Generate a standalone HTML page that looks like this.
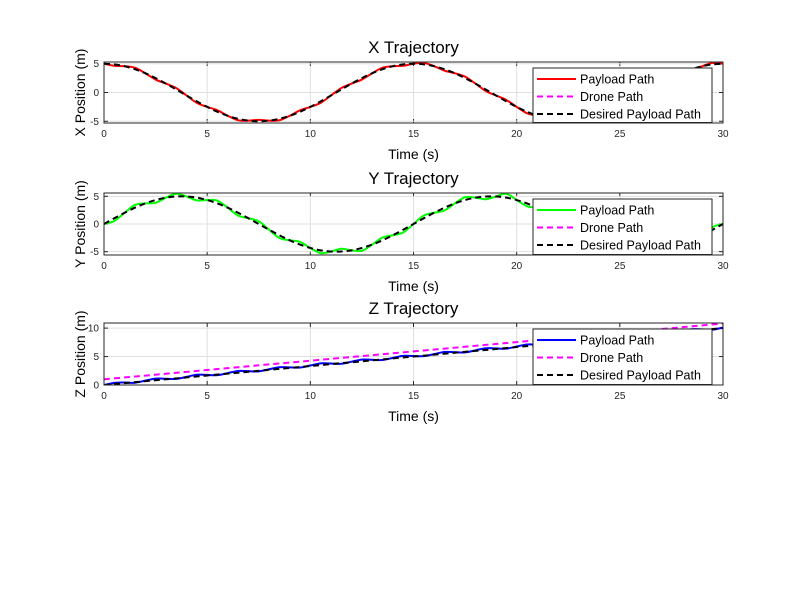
<!DOCTYPE html>
<html><head><meta charset="utf-8"><style>
body{margin:0;background:#fff}
svg{display:block;font-family:"Liberation Sans",Arial,sans-serif}
</style></head><body>
<svg id="chart" width="800" height="600" viewBox="0 0 800 600">
<rect width="800" height="600" fill="#fff"/>
</svg>
<script>
const timeHalf = [];for(let i=0;i<=60;i++)timeHalf.push(i*0.5);
const timeWhole = [];for(let i=0;i<=30;i++)timeWhole.push(i);
const xTicks = [0,5,10,15,20,25,30];
const xDesired = [5,4.89,4.57,4.05,3.35,2.5,1.55,0.52,-0.52,-1.55,-2.5,-3.35,-4.05,-4.57,-4.89,-5,-4.89,-4.57,-4.05,-3.35,-2.5,-1.55,-0.52,0.52,1.55,2.5,3.35,4.05,4.57,4.89,5,4.89,4.57,4.05,3.35,2.5,1.55,0.52,-0.52,-1.55,-2.5,-3.35,-4.05,-4.57,-4.89,-5,-4.89,-4.57,-4.05,-3.35,-2.5,-1.55,-0.52,0.52,1.55,2.5,3.35,4.05,4.57,4.89,5];
const xPayload = [5,4.64,4.57,4.30,3.35,2.25,1.55,0.77,-0.52,-1.80,-2.5,-3.10,-4.05,-4.82,-4.89,-4.75,-4.89,-4.82,-4.05,-3.10,-2.5,-1.80,-0.52,0.77,1.55,2.25,3.35,4.30,4.57,4.64,5,5.14,4.57,3.80,3.35,2.75,1.55,0.27,-0.52,-1.30,-2.5,-3.60,-4.05,-4.32,-4.89,-5.25,-4.89,-4.32,-4.05,-3.60,-2.5,-1.30,-0.52,0.27,1.55,2.75,3.35,3.80,4.57,5.14,5];
const yDesired = [0,1.04,2.03,2.94,3.72,4.33,4.76,4.97,4.97,4.76,4.33,3.72,2.94,2.03,1.04,0,-1.04,-2.03,-2.94,-3.72,-4.33,-4.76,-4.97,-4.97,-4.76,-4.33,-3.72,-2.94,-2.03,-1.04,0,1.04,2.03,2.94,3.72,4.33,4.76,4.97,4.97,4.76,4.33,3.72,2.94,2.03,1.04,0,-1.04,-2.03,-2.94,-3.72,-4.33,-4.76,-4.97,-4.97,-4.76,-4.33,-3.72,-2.94,-2.03,-1.04,0];
const yPayload = [0,0.54,2.03,3.44,3.72,3.83,4.76,5.47,4.97,4.26,4.33,4.22,2.94,1.53,1.04,0.5,-1.04,-2.53,-2.94,-3.22,-4.33,-5.26,-4.97,-4.47,-4.76,-4.83,-3.72,-2.44,-2.03,-1.54,0,1.54,2.03,2.44,3.72,4.83,4.76,4.47,4.97,5.47,4.33,3.22,2.94,2.53,1.04,-0.5,-1.04,-1.53,-2.94,-4.22,-4.33,-4.26,-4.97,-5.47,-4.76,-3.83,-3.72,-3.44,-2.03,-0.54,0];
const zDesired = [0,0.33,0.67,1,1.33,1.67,2,2.33,2.67,3,3.33,3.67,4,4.33,4.67,5,5.33,5.67,6,6.33,6.67,7,7.33,7.67,8,8.33,8.67,9,9.33,9.67,10];
const zDrone = [1.0,1.33,1.65,1.98,2.31,2.64,2.96,3.29,3.62,3.94,4.27,4.60,4.92,5.25,5.58,5.91,6.23,6.56,6.89,7.21,7.54,7.87,8.19,8.52,8.85,9.18,9.50,9.83,10.16,10.48,10.81];
const zPayload = [0,0.38,0.43,0.4,0.77,1.13,1.1,1.07,1.43,1.8,1.77,1.73,2.1,2.47,2.43,2.4,2.77,3.13,3.1,3.07,3.43,3.8,3.77,3.73,4.1,4.47,4.43,4.4,4.77,5.13,5.1,5.07,5.43,5.8,5.77,5.73,6.1,6.47,6.43,6.4,6.77,7.13,7.1,7.07,7.43,7.8,7.77,7.73,8.1,8.47,8.43,8.4,8.77,9.13,9.1,9.07,9.43,9.8,9.77,9.73,10.1];

const NS='http://www.w3.org/2000/svg';
const svg=document.getElementById('chart');
function mk(tag,attrs,parent){const e=document.createElementNS(NS,tag);for(const k in attrs)e.setAttribute(k,attrs[k]);(parent||svg).appendChild(e);return e;}
function smooth(pts){let d='M'+pts[0][0].toFixed(2)+','+pts[0][1].toFixed(2);
 for(let i=0;i<pts.length-1;i++){const p0=pts[Math.max(0,i-1)],p1=pts[i],p2=pts[i+1],p3=pts[Math.min(pts.length-1,i+2)];
 const c1=[p1[0]+(p2[0]-p0[0])/6,p1[1]+(p2[1]-p0[1])/6],c2=[p2[0]-(p3[0]-p1[0])/6,p2[1]-(p3[1]-p1[1])/6];
 d+='C'+c1.map(v=>v.toFixed(2))+' '+c2.map(v=>v.toFixed(2))+' '+p2.map(v=>v.toFixed(2));}return d;}

const L=104,R=723;
const panels=[
 {key:'x',top:62,bot:123,ymin:-5.3,ymax:5.3,yTicks:[-5,0,5],title:'X Trajectory',ylabel:'X Position (m)',payColor:'#ff0000',
  series:[{name:'payload',t:timeHalf,v:xPayload,c:'#ff0000',dash:null},{name:'desired',t:timeHalf,v:xDesired,c:'#000',dash:'6,4'}]},
 {key:'y',top:193,bot:255,ymin:-5.6,ymax:5.6,yTicks:[-5,0,5],title:'Y Trajectory',ylabel:'Y Position (m)',payColor:'#00ff00',
  series:[{name:'payload',t:timeHalf,v:yPayload,c:'#00ff00',dash:null},{name:'desired',t:timeHalf,v:yDesired,c:'#000',dash:'6,4'}]},
 {key:'z',top:323,bot:385,ymin:0,ymax:10.9,yTicks:[0,5,10],title:'Z Trajectory',ylabel:'Z Position (m)',payColor:'#0000ff',
  series:[{name:'payload',t:timeHalf,v:zPayload,c:'#0000ff',dash:null},{name:'drone',t:timeWhole,v:zDrone,c:'#ff00ff',dash:'6,4'},{name:'desired',t:timeWhole,v:zDesired,c:'#000',dash:'6,4'}]}
];
panels.forEach((p,pi)=>{
 const xs=t=>L+(t-0)/(30-0)*(R-L);
 const ys=v=>p.bot-(v-p.ymin)/(p.ymax-p.ymin)*(p.bot-p.top);
 const g=mk('g',{});
 
 
 mk('rect',{x:L,y:p.top,width:R-L,height:p.bot-p.top,fill:'#fff'},g);
 const clip=mk('clipPath',{id:'clip'+pi},g);mk('rect',{x:L,y:p.top,width:R-L,height:p.bot-p.top},clip);
 xTicks.forEach(t=>{const x=xs(t);
  const gl=mk('line',{x1:x,x2:x,y1:p.top,y2:p.bot,stroke:'#dfdfdf','stroke-width':1},g);
  
  mk('line',{x1:x,x2:x,y1:p.bot,y2:p.bot-4,stroke:'#262626'},g);mk('line',{x1:x,x2:x,y1:p.top,y2:p.top+4,stroke:'#262626'},g);
  const tl=mk('text',{x:x,y:p.bot+14,'font-size':10,'text-anchor':'middle',fill:'#262626'},g);tl.textContent=t;
  });
 p.yTicks.forEach(v=>{const y=ys(v);
  mk('line',{x1:L,x2:R,y1:y,y2:y,stroke:'#dfdfdf','stroke-width':1},g);
  mk('line',{x1:L,x2:L+4,y1:y,y2:y,stroke:'#262626'},g);mk('line',{x1:R,x2:R-4,y1:y,y2:y,stroke:'#262626'},g);
  const tl=mk('text',{x:L-5,y:y+3.5,'font-size':10,'text-anchor':'end',fill:'#262626'},g);tl.textContent=v;
  });
 const lines=mk('g',{'clip-path':'url(#clip'+pi+')'},g);
 p.series.forEach(s=>{const pts=s.t.map((t,i)=>[xs(t),ys(s.v[i])]);
  const a={d:smooth(pts),fill:'none',stroke:s.c,'stroke-width':2};if(s.dash)a['stroke-dasharray']=s.dash;
  const e=mk('path',a,lines);
  });
 mk('rect',{x:L,y:p.top,width:R-L,height:p.bot-p.top,fill:'none',stroke:'#262626','stroke-width':1},g);
 const tt=mk('text',{x:(L+R)/2,y:p.top-9,'font-size':17,'text-anchor':'middle',fill:'#000'},g);tt.textContent=p.title;
 
 const xl=mk('text',{x:(L+R)/2,y:p.bot+36,'font-size':14,'text-anchor':'middle',fill:'#000'},g);xl.textContent='Time (s)';
 
 const cy=(p.top+p.bot)/2;
 const yl=mk('text',{x:85,y:cy,'font-size':14,'text-anchor':'middle',fill:'#000',transform:'rotate(-90 85 '+cy+')'},g);yl.textContent=p.ylabel;
 
 // legend
 const lg=mk('g',{},g);
 
 const lt=p.top+6, lb=p.bot-0.5;
 mk('rect',{x:533,y:lt,width:179,height:lb-lt,fill:'#fff',stroke:'#262626','stroke-width':1},lg);
 const items=[['Payload Path',p.payColor,null],['Drone Path','#ff00ff','6,4'],['Desired Payload Path','#000','6,4']];
 items.forEach((it,k)=>{const y=lt+11+k*17.5;
  const a={x1:537,x2:576,y1:y,y2:y,stroke:it[1],'stroke-width':2};if(it[2])a['stroke-dasharray']=it[2];
  const ln=mk('line',a,lg);
  const tx=mk('text',{x:580,y:y+4.5,'font-size':12.5,fill:'#000'},lg);tx.textContent=it[0];
  });
});
</script>
</body></html>
